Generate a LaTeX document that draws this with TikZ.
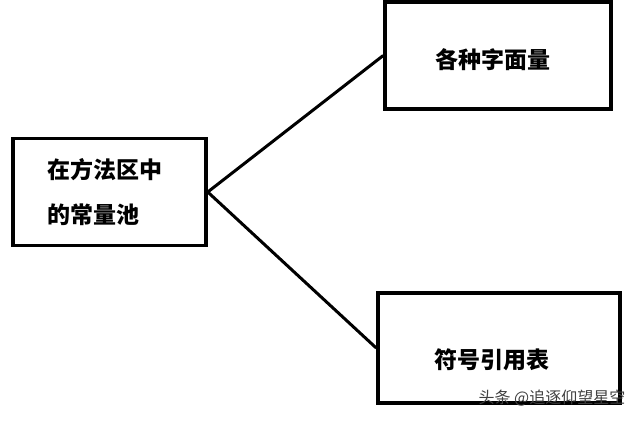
\documentclass[tikz,border=0pt]{standalone}
\usepackage{fontspec}
\newfontfamily\cjk{Noto Sans CJK SC}
\begin{document}
\begin{tikzpicture}[
                x=1pt, y=-1pt,
                every node/.style={font=\cjk\bfseries\fontsize{23}{45}\selectfont},
                box/.style={draw, line width=3.5pt, inner sep=0pt},
                link/.style={line width=3pt}
            ]
            \useasboundingbox (0,0) rectangle (640,421);

            % source
            \node[box, minimum width=193pt, minimum height=107pt,
                  align=left, text width=125pt] (pool) at (109.5,192)
                {在方法区中\\的常量池};

            % targets
            \node[box, minimum width=226pt, minimum height=107pt] (literal) at (498,55.5) {};
            \node at (493,60) {各种字面量};
            \node[box, minimum width=242pt, minimum height=110pt] (symref) at (499,348) {};
            \node at (492,360) {符号引用表};

            \draw[link] (pool.east) -- (literal.west);
            \draw[link] (pool.east) -- (symref.west);

            \node[font=\cjk\fontsize{16}{16}\selectfont, text=black!75] (watermark) at (552,398) {头条 @追逐仰望星空};

        \end{tikzpicture}
\end{document}
